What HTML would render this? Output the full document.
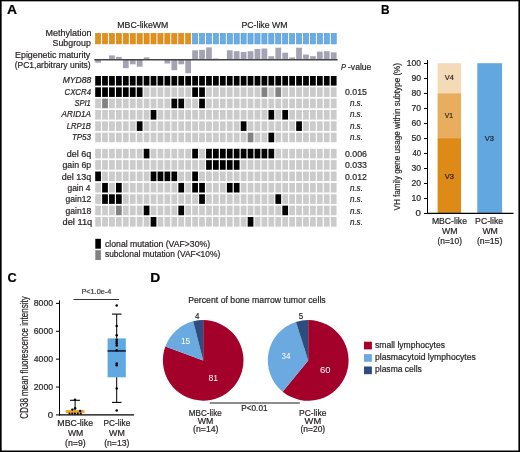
<!DOCTYPE html>
<html><head><meta charset="utf-8"><style>
html,body{margin:0;padding:0;background:#fff;}
svg{display:block;font-family:"Liberation Sans", sans-serif;will-change:transform;}
</style></head><body>
<svg width="520" height="452" viewBox="0 0 520 452">
<rect width="520" height="452" fill="#fff"/>
<text x="7.00" y="14.30" font-size="12.5" fill="#000" stroke="#000" stroke-width="0.2" font-weight="bold" textLength="10.00" lengthAdjust="spacingAndGlyphs" >A</text>
<text x="117.30" y="27.80" font-size="8.5" fill="#231f20" stroke="#231f20" stroke-width="0.2"  textLength="51.00" lengthAdjust="spacingAndGlyphs" >MBC-likeWM</text>
<text x="241.40" y="27.80" font-size="8.5" fill="#231f20" stroke="#231f20" stroke-width="0.2"  textLength="46.20" lengthAdjust="spacingAndGlyphs" >PC-like WM</text>
<rect x="95.50" y="33.4" width="5.15" height="10.5" fill="#E0901E" stroke="#D8820C" stroke-width="0.6"/>
<rect x="102.43" y="33.4" width="5.15" height="10.5" fill="#E0901E" stroke="#D8820C" stroke-width="0.6"/>
<rect x="109.36" y="33.4" width="5.15" height="10.5" fill="#E0901E" stroke="#D8820C" stroke-width="0.6"/>
<rect x="116.29" y="33.4" width="5.15" height="10.5" fill="#E0901E" stroke="#D8820C" stroke-width="0.6"/>
<rect x="123.22" y="33.4" width="5.15" height="10.5" fill="#E0901E" stroke="#D8820C" stroke-width="0.6"/>
<rect x="130.15" y="33.4" width="5.15" height="10.5" fill="#E0901E" stroke="#D8820C" stroke-width="0.6"/>
<rect x="137.08" y="33.4" width="5.15" height="10.5" fill="#E0901E" stroke="#D8820C" stroke-width="0.6"/>
<rect x="144.01" y="33.4" width="5.15" height="10.5" fill="#E0901E" stroke="#D8820C" stroke-width="0.6"/>
<rect x="150.94" y="33.4" width="5.15" height="10.5" fill="#E0901E" stroke="#D8820C" stroke-width="0.6"/>
<rect x="157.87" y="33.4" width="5.15" height="10.5" fill="#E0901E" stroke="#D8820C" stroke-width="0.6"/>
<rect x="164.80" y="33.4" width="5.15" height="10.5" fill="#E0901E" stroke="#D8820C" stroke-width="0.6"/>
<rect x="171.73" y="33.4" width="5.15" height="10.5" fill="#E0901E" stroke="#D8820C" stroke-width="0.6"/>
<rect x="178.66" y="33.4" width="5.15" height="10.5" fill="#E0901E" stroke="#D8820C" stroke-width="0.6"/>
<rect x="185.59" y="33.4" width="5.15" height="10.5" fill="#E0901E" stroke="#D8820C" stroke-width="0.6"/>
<rect x="192.52" y="33.4" width="5.15" height="10.5" fill="#6AACE3" stroke="#4E97DA" stroke-width="0.6"/>
<rect x="199.45" y="33.4" width="5.15" height="10.5" fill="#6AACE3" stroke="#4E97DA" stroke-width="0.6"/>
<rect x="206.38" y="33.4" width="5.15" height="10.5" fill="#6AACE3" stroke="#4E97DA" stroke-width="0.6"/>
<rect x="213.31" y="33.4" width="5.15" height="10.5" fill="#6AACE3" stroke="#4E97DA" stroke-width="0.6"/>
<rect x="220.24" y="33.4" width="5.15" height="10.5" fill="#6AACE3" stroke="#4E97DA" stroke-width="0.6"/>
<rect x="227.17" y="33.4" width="5.15" height="10.5" fill="#6AACE3" stroke="#4E97DA" stroke-width="0.6"/>
<rect x="234.10" y="33.4" width="5.15" height="10.5" fill="#6AACE3" stroke="#4E97DA" stroke-width="0.6"/>
<rect x="241.03" y="33.4" width="5.15" height="10.5" fill="#6AACE3" stroke="#4E97DA" stroke-width="0.6"/>
<rect x="247.96" y="33.4" width="5.15" height="10.5" fill="#6AACE3" stroke="#4E97DA" stroke-width="0.6"/>
<rect x="254.89" y="33.4" width="5.15" height="10.5" fill="#6AACE3" stroke="#4E97DA" stroke-width="0.6"/>
<rect x="261.82" y="33.4" width="5.15" height="10.5" fill="#6AACE3" stroke="#4E97DA" stroke-width="0.6"/>
<rect x="268.75" y="33.4" width="5.15" height="10.5" fill="#6AACE3" stroke="#4E97DA" stroke-width="0.6"/>
<rect x="275.68" y="33.4" width="5.15" height="10.5" fill="#6AACE3" stroke="#4E97DA" stroke-width="0.6"/>
<rect x="282.61" y="33.4" width="5.15" height="10.5" fill="#6AACE3" stroke="#4E97DA" stroke-width="0.6"/>
<rect x="289.54" y="33.4" width="5.15" height="10.5" fill="#6AACE3" stroke="#4E97DA" stroke-width="0.6"/>
<rect x="296.47" y="33.4" width="5.15" height="10.5" fill="#6AACE3" stroke="#4E97DA" stroke-width="0.6"/>
<rect x="303.40" y="33.4" width="5.15" height="10.5" fill="#6AACE3" stroke="#4E97DA" stroke-width="0.6"/>
<rect x="310.33" y="33.4" width="5.15" height="10.5" fill="#6AACE3" stroke="#4E97DA" stroke-width="0.6"/>
<rect x="317.26" y="33.4" width="5.15" height="10.5" fill="#6AACE3" stroke="#4E97DA" stroke-width="0.6"/>
<rect x="324.19" y="33.4" width="5.15" height="10.5" fill="#6AACE3" stroke="#4E97DA" stroke-width="0.6"/>
<rect x="331.12" y="33.4" width="5.15" height="10.5" fill="#6AACE3" stroke="#4E97DA" stroke-width="0.6"/>
<text x="45.40" y="35.70" font-size="8.5" fill="#231f20" stroke="#231f20" stroke-width="0.2"  textLength="46.00" lengthAdjust="spacingAndGlyphs" >Methylation</text>
<text x="52.60" y="45.60" font-size="8.5" fill="#231f20" stroke="#231f20" stroke-width="0.2"  textLength="38.20" lengthAdjust="spacingAndGlyphs" >Subgroup</text>
<text x="15.10" y="58.30" font-size="8.5" fill="#231f20" stroke="#231f20" stroke-width="0.2"  textLength="75.20" lengthAdjust="spacingAndGlyphs" >Epigenetic maturity</text>
<text x="14.70" y="67.50" font-size="8.5" fill="#231f20" stroke="#231f20" stroke-width="0.2"  textLength="76.00" lengthAdjust="spacingAndGlyphs" >(PC1,arbitrary units)</text>
<rect x="95.20" y="59.70" width="5.75" height="3.00" fill="#A3A3B3" />
<rect x="109.06" y="55.40" width="5.75" height="4.30" fill="#A3A3B3" />
<rect x="115.99" y="56.90" width="5.75" height="2.80" fill="#A3A3B3" />
<rect x="122.92" y="59.70" width="5.75" height="8.50" fill="#A3A3B3" />
<rect x="129.85" y="59.70" width="5.75" height="4.60" fill="#A3A3B3" />
<rect x="136.78" y="59.70" width="5.75" height="7.00" fill="#A3A3B3" />
<rect x="143.71" y="57.40" width="5.75" height="2.30" fill="#A3A3B3" />
<rect x="164.50" y="59.70" width="5.75" height="3.80" fill="#A3A3B3" />
<rect x="171.43" y="59.70" width="5.75" height="10.50" fill="#A3A3B3" />
<rect x="178.36" y="59.70" width="5.75" height="4.60" fill="#A3A3B3" />
<rect x="185.29" y="59.70" width="5.75" height="13.50" fill="#A3A3B3" />
<rect x="192.22" y="50.30" width="5.75" height="9.40" fill="#A3A3B3" />
<rect x="199.15" y="49.90" width="5.75" height="9.80" fill="#A3A3B3" />
<rect x="206.08" y="47.40" width="5.75" height="12.30" fill="#A3A3B3" />
<rect x="213.01" y="58.50" width="5.75" height="1.20" fill="#A3A3B3" />
<rect x="226.87" y="50.30" width="5.75" height="9.40" fill="#A3A3B3" />
<rect x="233.80" y="51.20" width="5.75" height="8.50" fill="#A3A3B3" />
<rect x="240.73" y="52.00" width="5.75" height="7.70" fill="#A3A3B3" />
<rect x="247.66" y="51.20" width="5.75" height="8.50" fill="#A3A3B3" />
<rect x="254.59" y="48.90" width="5.75" height="10.80" fill="#A3A3B3" />
<rect x="261.52" y="48.50" width="5.75" height="11.20" fill="#A3A3B3" />
<rect x="268.45" y="56.20" width="5.75" height="3.50" fill="#A3A3B3" />
<rect x="275.38" y="47.70" width="5.75" height="12.00" fill="#A3A3B3" />
<rect x="282.31" y="52.70" width="5.75" height="7.00" fill="#A3A3B3" />
<rect x="289.24" y="57.40" width="5.75" height="2.30" fill="#A3A3B3" />
<rect x="296.17" y="47.70" width="5.75" height="12.00" fill="#A3A3B3" />
<rect x="303.10" y="54.50" width="5.75" height="5.20" fill="#A3A3B3" />
<rect x="310.03" y="56.20" width="5.75" height="3.50" fill="#A3A3B3" />
<rect x="316.96" y="51.60" width="5.75" height="8.10" fill="#A3A3B3" />
<rect x="323.89" y="51.20" width="5.75" height="8.50" fill="#A3A3B3" />
<rect x="330.82" y="52.30" width="5.75" height="7.40" fill="#A3A3B3" />
<line x1="94.30" y1="59.80" x2="337.60" y2="59.80" stroke="#454545" stroke-width="1.4" />
<text x="341.00" y="70.30" font-size="8.5" fill="#231f20" stroke="#231f20" stroke-width="0.2" font-style="italic" textLength="5.00" lengthAdjust="spacingAndGlyphs" >P</text>
<text x="348.00" y="70.30" font-size="8.5" fill="#231f20" stroke="#231f20" stroke-width="0.2"  textLength="23.40" lengthAdjust="spacingAndGlyphs" >-value</text>
<rect x="95.20" y="76.00" width="5.75" height="9.60" fill="#000000" />
<rect x="102.13" y="76.00" width="5.75" height="9.60" fill="#000000" />
<rect x="109.06" y="76.00" width="5.75" height="9.60" fill="#000000" />
<rect x="115.99" y="76.00" width="5.75" height="9.60" fill="#000000" />
<rect x="122.92" y="76.00" width="5.75" height="9.60" fill="#000000" />
<rect x="129.85" y="76.00" width="5.75" height="9.60" fill="#000000" />
<rect x="136.78" y="76.00" width="5.75" height="9.60" fill="#000000" />
<rect x="143.71" y="76.00" width="5.75" height="9.60" fill="#000000" />
<rect x="150.64" y="76.00" width="5.75" height="9.60" fill="#000000" />
<rect x="157.57" y="76.00" width="5.75" height="9.60" fill="#000000" />
<rect x="164.50" y="76.00" width="5.75" height="9.60" fill="#000000" />
<rect x="171.43" y="76.00" width="5.75" height="9.60" fill="#000000" />
<rect x="178.36" y="76.00" width="5.75" height="9.60" fill="#000000" />
<rect x="185.29" y="76.00" width="5.75" height="9.60" fill="#000000" />
<rect x="192.22" y="76.00" width="5.75" height="9.60" fill="#000000" />
<rect x="199.15" y="76.00" width="5.75" height="9.60" fill="#000000" />
<rect x="206.08" y="76.00" width="5.75" height="9.60" fill="#000000" />
<rect x="213.01" y="76.00" width="5.75" height="9.60" fill="#000000" />
<rect x="219.94" y="76.00" width="5.75" height="9.60" fill="#000000" />
<rect x="226.87" y="76.00" width="5.75" height="9.60" fill="#000000" />
<rect x="233.80" y="76.00" width="5.75" height="9.60" fill="#000000" />
<rect x="240.73" y="76.00" width="5.75" height="9.60" fill="#000000" />
<rect x="247.66" y="76.00" width="5.75" height="9.60" fill="#000000" />
<rect x="254.59" y="76.00" width="5.75" height="9.60" fill="#000000" />
<rect x="261.52" y="76.00" width="5.75" height="9.60" fill="#000000" />
<rect x="268.45" y="76.00" width="5.75" height="9.60" fill="#000000" />
<rect x="275.38" y="76.00" width="5.75" height="9.60" fill="#000000" />
<rect x="282.31" y="76.00" width="5.75" height="9.60" fill="#000000" />
<rect x="289.24" y="76.00" width="5.75" height="9.60" fill="#000000" />
<rect x="296.17" y="76.00" width="5.75" height="9.60" fill="#000000" />
<rect x="303.10" y="76.00" width="5.75" height="9.60" fill="#000000" />
<rect x="310.03" y="76.00" width="5.75" height="9.60" fill="#000000" />
<rect x="316.96" y="76.00" width="5.75" height="9.60" fill="#000000" />
<rect x="323.89" y="76.00" width="5.75" height="9.60" fill="#000000" />
<rect x="330.82" y="76.00" width="5.75" height="9.60" fill="#000000" />
<text x="62.70" y="83.40" font-size="8.5" fill="#231f20" stroke="#231f20" stroke-width="0.2" font-style="italic" textLength="28.60" lengthAdjust="spacingAndGlyphs" >MYD88</text>
<rect x="95.20" y="87.33" width="5.75" height="9.60" fill="#000000" />
<rect x="102.13" y="87.33" width="5.75" height="9.60" fill="#000000" />
<rect x="109.06" y="87.33" width="5.75" height="9.60" fill="#000000" />
<rect x="115.99" y="87.33" width="5.75" height="9.60" fill="#000000" />
<rect x="122.92" y="87.33" width="5.75" height="9.60" fill="#000000" />
<rect x="129.85" y="87.33" width="5.75" height="9.60" fill="#000000" />
<rect x="136.78" y="87.33" width="5.75" height="9.60" fill="#000000" />
<rect x="143.71" y="87.33" width="5.75" height="9.60" fill="#CBCBCB" />
<rect x="150.64" y="87.33" width="5.75" height="9.60" fill="#CBCBCB" />
<rect x="157.57" y="87.33" width="5.75" height="9.60" fill="#CBCBCB" />
<rect x="164.50" y="87.33" width="5.75" height="9.60" fill="#CBCBCB" />
<rect x="171.43" y="87.33" width="5.75" height="9.60" fill="#CBCBCB" />
<rect x="178.36" y="87.33" width="5.75" height="9.60" fill="#CBCBCB" />
<rect x="185.29" y="87.33" width="5.75" height="9.60" fill="#CBCBCB" />
<rect x="192.22" y="87.33" width="5.75" height="9.60" fill="#000000" />
<rect x="199.15" y="87.33" width="5.75" height="9.60" fill="#000000" />
<rect x="206.08" y="87.33" width="5.75" height="9.60" fill="#CBCBCB" />
<rect x="213.01" y="87.33" width="5.75" height="9.60" fill="#CBCBCB" />
<rect x="219.94" y="87.33" width="5.75" height="9.60" fill="#CBCBCB" />
<rect x="226.87" y="87.33" width="5.75" height="9.60" fill="#CBCBCB" />
<rect x="233.80" y="87.33" width="5.75" height="9.60" fill="#CBCBCB" />
<rect x="240.73" y="87.33" width="5.75" height="9.60" fill="#CBCBCB" />
<rect x="247.66" y="87.33" width="5.75" height="9.60" fill="#CBCBCB" />
<rect x="254.59" y="87.33" width="5.75" height="9.60" fill="#CBCBCB" />
<rect x="261.52" y="87.33" width="5.75" height="9.60" fill="#828282" />
<rect x="268.45" y="87.33" width="5.75" height="9.60" fill="#CBCBCB" />
<rect x="275.38" y="87.33" width="5.75" height="9.60" fill="#828282" />
<rect x="282.31" y="87.33" width="5.75" height="9.60" fill="#CBCBCB" />
<rect x="289.24" y="87.33" width="5.75" height="9.60" fill="#CBCBCB" />
<rect x="296.17" y="87.33" width="5.75" height="9.60" fill="#CBCBCB" />
<rect x="303.10" y="87.33" width="5.75" height="9.60" fill="#CBCBCB" />
<rect x="310.03" y="87.33" width="5.75" height="9.60" fill="#CBCBCB" />
<rect x="316.96" y="87.33" width="5.75" height="9.60" fill="#CBCBCB" />
<rect x="323.89" y="87.33" width="5.75" height="9.60" fill="#CBCBCB" />
<rect x="330.82" y="87.33" width="5.75" height="9.60" fill="#CBCBCB" />
<text x="64.50" y="94.73" font-size="8.5" fill="#231f20" stroke="#231f20" stroke-width="0.2" font-style="italic" textLength="26.50" lengthAdjust="spacingAndGlyphs" >CXCR4</text>
<text x="345.00" y="94.73" font-size="8.5" fill="#231f20" stroke="#231f20" stroke-width="0.2"  textLength="21.90" lengthAdjust="spacingAndGlyphs" >0.015</text>
<rect x="95.20" y="98.66" width="5.75" height="9.60" fill="#CBCBCB" />
<rect x="102.13" y="98.66" width="5.75" height="9.60" fill="#828282" />
<rect x="109.06" y="98.66" width="5.75" height="9.60" fill="#CBCBCB" />
<rect x="115.99" y="98.66" width="5.75" height="9.60" fill="#CBCBCB" />
<rect x="122.92" y="98.66" width="5.75" height="9.60" fill="#CBCBCB" />
<rect x="129.85" y="98.66" width="5.75" height="9.60" fill="#CBCBCB" />
<rect x="136.78" y="98.66" width="5.75" height="9.60" fill="#CBCBCB" />
<rect x="143.71" y="98.66" width="5.75" height="9.60" fill="#CBCBCB" />
<rect x="150.64" y="98.66" width="5.75" height="9.60" fill="#CBCBCB" />
<rect x="157.57" y="98.66" width="5.75" height="9.60" fill="#CBCBCB" />
<rect x="164.50" y="98.66" width="5.75" height="9.60" fill="#CBCBCB" />
<rect x="171.43" y="98.66" width="5.75" height="9.60" fill="#000000" />
<rect x="178.36" y="98.66" width="5.75" height="9.60" fill="#000000" />
<rect x="185.29" y="98.66" width="5.75" height="9.60" fill="#CBCBCB" />
<rect x="192.22" y="98.66" width="5.75" height="9.60" fill="#CBCBCB" />
<rect x="199.15" y="98.66" width="5.75" height="9.60" fill="#000000" />
<rect x="206.08" y="98.66" width="5.75" height="9.60" fill="#CBCBCB" />
<rect x="213.01" y="98.66" width="5.75" height="9.60" fill="#CBCBCB" />
<rect x="219.94" y="98.66" width="5.75" height="9.60" fill="#CBCBCB" />
<rect x="226.87" y="98.66" width="5.75" height="9.60" fill="#CBCBCB" />
<rect x="233.80" y="98.66" width="5.75" height="9.60" fill="#CBCBCB" />
<rect x="240.73" y="98.66" width="5.75" height="9.60" fill="#CBCBCB" />
<rect x="247.66" y="98.66" width="5.75" height="9.60" fill="#CBCBCB" />
<rect x="254.59" y="98.66" width="5.75" height="9.60" fill="#CBCBCB" />
<rect x="261.52" y="98.66" width="5.75" height="9.60" fill="#CBCBCB" />
<rect x="268.45" y="98.66" width="5.75" height="9.60" fill="#CBCBCB" />
<rect x="275.38" y="98.66" width="5.75" height="9.60" fill="#CBCBCB" />
<rect x="282.31" y="98.66" width="5.75" height="9.60" fill="#CBCBCB" />
<rect x="289.24" y="98.66" width="5.75" height="9.60" fill="#CBCBCB" />
<rect x="296.17" y="98.66" width="5.75" height="9.60" fill="#CBCBCB" />
<rect x="303.10" y="98.66" width="5.75" height="9.60" fill="#CBCBCB" />
<rect x="310.03" y="98.66" width="5.75" height="9.60" fill="#CBCBCB" />
<rect x="316.96" y="98.66" width="5.75" height="9.60" fill="#CBCBCB" />
<rect x="323.89" y="98.66" width="5.75" height="9.60" fill="#CBCBCB" />
<rect x="330.82" y="98.66" width="5.75" height="9.60" fill="#CBCBCB" />
<text x="74.40" y="106.06" font-size="8.5" fill="#231f20" stroke="#231f20" stroke-width="0.2" font-style="italic" textLength="16.40" lengthAdjust="spacingAndGlyphs" >SPI1</text>
<text x="349.90" y="106.06" font-size="8.5" fill="#231f20" stroke="#231f20" stroke-width="0.2" font-style="italic" textLength="13.00" lengthAdjust="spacingAndGlyphs" >n.s.</text>
<rect x="95.20" y="109.99" width="5.75" height="9.60" fill="#CBCBCB" />
<rect x="102.13" y="109.99" width="5.75" height="9.60" fill="#CBCBCB" />
<rect x="109.06" y="109.99" width="5.75" height="9.60" fill="#CBCBCB" />
<rect x="115.99" y="109.99" width="5.75" height="9.60" fill="#CBCBCB" />
<rect x="122.92" y="109.99" width="5.75" height="9.60" fill="#CBCBCB" />
<rect x="129.85" y="109.99" width="5.75" height="9.60" fill="#CBCBCB" />
<rect x="136.78" y="109.99" width="5.75" height="9.60" fill="#CBCBCB" />
<rect x="143.71" y="109.99" width="5.75" height="9.60" fill="#CBCBCB" />
<rect x="150.64" y="109.99" width="5.75" height="9.60" fill="#000000" />
<rect x="157.57" y="109.99" width="5.75" height="9.60" fill="#CBCBCB" />
<rect x="164.50" y="109.99" width="5.75" height="9.60" fill="#CBCBCB" />
<rect x="171.43" y="109.99" width="5.75" height="9.60" fill="#CBCBCB" />
<rect x="178.36" y="109.99" width="5.75" height="9.60" fill="#CBCBCB" />
<rect x="185.29" y="109.99" width="5.75" height="9.60" fill="#CBCBCB" />
<rect x="192.22" y="109.99" width="5.75" height="9.60" fill="#CBCBCB" />
<rect x="199.15" y="109.99" width="5.75" height="9.60" fill="#CBCBCB" />
<rect x="206.08" y="109.99" width="5.75" height="9.60" fill="#CBCBCB" />
<rect x="213.01" y="109.99" width="5.75" height="9.60" fill="#CBCBCB" />
<rect x="219.94" y="109.99" width="5.75" height="9.60" fill="#CBCBCB" />
<rect x="226.87" y="109.99" width="5.75" height="9.60" fill="#CBCBCB" />
<rect x="233.80" y="109.99" width="5.75" height="9.60" fill="#CBCBCB" />
<rect x="240.73" y="109.99" width="5.75" height="9.60" fill="#CBCBCB" />
<rect x="247.66" y="109.99" width="5.75" height="9.60" fill="#CBCBCB" />
<rect x="254.59" y="109.99" width="5.75" height="9.60" fill="#CBCBCB" />
<rect x="261.52" y="109.99" width="5.75" height="9.60" fill="#CBCBCB" />
<rect x="268.45" y="109.99" width="5.75" height="9.60" fill="#000000" />
<rect x="275.38" y="109.99" width="5.75" height="9.60" fill="#CBCBCB" />
<rect x="282.31" y="109.99" width="5.75" height="9.60" fill="#000000" />
<rect x="289.24" y="109.99" width="5.75" height="9.60" fill="#CBCBCB" />
<rect x="296.17" y="109.99" width="5.75" height="9.60" fill="#CBCBCB" />
<rect x="303.10" y="109.99" width="5.75" height="9.60" fill="#CBCBCB" />
<rect x="310.03" y="109.99" width="5.75" height="9.60" fill="#CBCBCB" />
<rect x="316.96" y="109.99" width="5.75" height="9.60" fill="#CBCBCB" />
<rect x="323.89" y="109.99" width="5.75" height="9.60" fill="#CBCBCB" />
<rect x="330.82" y="109.99" width="5.75" height="9.60" fill="#CBCBCB" />
<text x="61.60" y="117.39" font-size="8.5" fill="#231f20" stroke="#231f20" stroke-width="0.2" font-style="italic" textLength="29.40" lengthAdjust="spacingAndGlyphs" >ARID1A</text>
<text x="349.90" y="117.39" font-size="8.5" fill="#231f20" stroke="#231f20" stroke-width="0.2" font-style="italic" textLength="13.00" lengthAdjust="spacingAndGlyphs" >n.s.</text>
<rect x="95.20" y="121.32" width="5.75" height="9.60" fill="#CBCBCB" />
<rect x="102.13" y="121.32" width="5.75" height="9.60" fill="#CBCBCB" />
<rect x="109.06" y="121.32" width="5.75" height="9.60" fill="#CBCBCB" />
<rect x="115.99" y="121.32" width="5.75" height="9.60" fill="#CBCBCB" />
<rect x="122.92" y="121.32" width="5.75" height="9.60" fill="#CBCBCB" />
<rect x="129.85" y="121.32" width="5.75" height="9.60" fill="#CBCBCB" />
<rect x="136.78" y="121.32" width="5.75" height="9.60" fill="#000000" />
<rect x="143.71" y="121.32" width="5.75" height="9.60" fill="#CBCBCB" />
<rect x="150.64" y="121.32" width="5.75" height="9.60" fill="#CBCBCB" />
<rect x="157.57" y="121.32" width="5.75" height="9.60" fill="#CBCBCB" />
<rect x="164.50" y="121.32" width="5.75" height="9.60" fill="#CBCBCB" />
<rect x="171.43" y="121.32" width="5.75" height="9.60" fill="#CBCBCB" />
<rect x="178.36" y="121.32" width="5.75" height="9.60" fill="#CBCBCB" />
<rect x="185.29" y="121.32" width="5.75" height="9.60" fill="#CBCBCB" />
<rect x="192.22" y="121.32" width="5.75" height="9.60" fill="#CBCBCB" />
<rect x="199.15" y="121.32" width="5.75" height="9.60" fill="#CBCBCB" />
<rect x="206.08" y="121.32" width="5.75" height="9.60" fill="#CBCBCB" />
<rect x="213.01" y="121.32" width="5.75" height="9.60" fill="#CBCBCB" />
<rect x="219.94" y="121.32" width="5.75" height="9.60" fill="#CBCBCB" />
<rect x="226.87" y="121.32" width="5.75" height="9.60" fill="#CBCBCB" />
<rect x="233.80" y="121.32" width="5.75" height="9.60" fill="#CBCBCB" />
<rect x="240.73" y="121.32" width="5.75" height="9.60" fill="#000000" />
<rect x="247.66" y="121.32" width="5.75" height="9.60" fill="#CBCBCB" />
<rect x="254.59" y="121.32" width="5.75" height="9.60" fill="#CBCBCB" />
<rect x="261.52" y="121.32" width="5.75" height="9.60" fill="#CBCBCB" />
<rect x="268.45" y="121.32" width="5.75" height="9.60" fill="#CBCBCB" />
<rect x="275.38" y="121.32" width="5.75" height="9.60" fill="#CBCBCB" />
<rect x="282.31" y="121.32" width="5.75" height="9.60" fill="#CBCBCB" />
<rect x="289.24" y="121.32" width="5.75" height="9.60" fill="#CBCBCB" />
<rect x="296.17" y="121.32" width="5.75" height="9.60" fill="#000000" />
<rect x="303.10" y="121.32" width="5.75" height="9.60" fill="#CBCBCB" />
<rect x="310.03" y="121.32" width="5.75" height="9.60" fill="#CBCBCB" />
<rect x="316.96" y="121.32" width="5.75" height="9.60" fill="#CBCBCB" />
<rect x="323.89" y="121.32" width="5.75" height="9.60" fill="#CBCBCB" />
<rect x="330.82" y="121.32" width="5.75" height="9.60" fill="#CBCBCB" />
<text x="66.70" y="128.72" font-size="8.5" fill="#231f20" stroke="#231f20" stroke-width="0.2" font-style="italic" textLength="24.30" lengthAdjust="spacingAndGlyphs" >LRP1B</text>
<text x="349.90" y="128.72" font-size="8.5" fill="#231f20" stroke="#231f20" stroke-width="0.2" font-style="italic" textLength="13.00" lengthAdjust="spacingAndGlyphs" >n.s.</text>
<rect x="95.20" y="132.65" width="5.75" height="9.60" fill="#CBCBCB" />
<rect x="102.13" y="132.65" width="5.75" height="9.60" fill="#CBCBCB" />
<rect x="109.06" y="132.65" width="5.75" height="9.60" fill="#CBCBCB" />
<rect x="115.99" y="132.65" width="5.75" height="9.60" fill="#CBCBCB" />
<rect x="122.92" y="132.65" width="5.75" height="9.60" fill="#CBCBCB" />
<rect x="129.85" y="132.65" width="5.75" height="9.60" fill="#CBCBCB" />
<rect x="136.78" y="132.65" width="5.75" height="9.60" fill="#CBCBCB" />
<rect x="143.71" y="132.65" width="5.75" height="9.60" fill="#CBCBCB" />
<rect x="150.64" y="132.65" width="5.75" height="9.60" fill="#CBCBCB" />
<rect x="157.57" y="132.65" width="5.75" height="9.60" fill="#CBCBCB" />
<rect x="164.50" y="132.65" width="5.75" height="9.60" fill="#CBCBCB" />
<rect x="171.43" y="132.65" width="5.75" height="9.60" fill="#CBCBCB" />
<rect x="178.36" y="132.65" width="5.75" height="9.60" fill="#CBCBCB" />
<rect x="185.29" y="132.65" width="5.75" height="9.60" fill="#CBCBCB" />
<rect x="192.22" y="132.65" width="5.75" height="9.60" fill="#CBCBCB" />
<rect x="199.15" y="132.65" width="5.75" height="9.60" fill="#CBCBCB" />
<rect x="206.08" y="132.65" width="5.75" height="9.60" fill="#CBCBCB" />
<rect x="213.01" y="132.65" width="5.75" height="9.60" fill="#CBCBCB" />
<rect x="219.94" y="132.65" width="5.75" height="9.60" fill="#CBCBCB" />
<rect x="226.87" y="132.65" width="5.75" height="9.60" fill="#CBCBCB" />
<rect x="233.80" y="132.65" width="5.75" height="9.60" fill="#CBCBCB" />
<rect x="240.73" y="132.65" width="5.75" height="9.60" fill="#CBCBCB" />
<rect x="247.66" y="132.65" width="5.75" height="9.60" fill="#828282" />
<rect x="254.59" y="132.65" width="5.75" height="9.60" fill="#CBCBCB" />
<rect x="261.52" y="132.65" width="5.75" height="9.60" fill="#CBCBCB" />
<rect x="268.45" y="132.65" width="5.75" height="9.60" fill="#000000" />
<rect x="275.38" y="132.65" width="5.75" height="9.60" fill="#CBCBCB" />
<rect x="282.31" y="132.65" width="5.75" height="9.60" fill="#CBCBCB" />
<rect x="289.24" y="132.65" width="5.75" height="9.60" fill="#CBCBCB" />
<rect x="296.17" y="132.65" width="5.75" height="9.60" fill="#CBCBCB" />
<rect x="303.10" y="132.65" width="5.75" height="9.60" fill="#CBCBCB" />
<rect x="310.03" y="132.65" width="5.75" height="9.60" fill="#CBCBCB" />
<rect x="316.96" y="132.65" width="5.75" height="9.60" fill="#CBCBCB" />
<rect x="323.89" y="132.65" width="5.75" height="9.60" fill="#CBCBCB" />
<rect x="330.82" y="132.65" width="5.75" height="9.60" fill="#CBCBCB" />
<text x="71.90" y="140.05" font-size="8.5" fill="#231f20" stroke="#231f20" stroke-width="0.2" font-style="italic" textLength="19.10" lengthAdjust="spacingAndGlyphs" >TP53</text>
<text x="349.90" y="140.05" font-size="8.5" fill="#231f20" stroke="#231f20" stroke-width="0.2" font-style="italic" textLength="13.00" lengthAdjust="spacingAndGlyphs" >n.s.</text>
<rect x="95.20" y="148.80" width="5.75" height="9.60" fill="#CBCBCB" />
<rect x="102.13" y="148.80" width="5.75" height="9.60" fill="#CBCBCB" />
<rect x="109.06" y="148.80" width="5.75" height="9.60" fill="#CBCBCB" />
<rect x="115.99" y="148.80" width="5.75" height="9.60" fill="#CBCBCB" />
<rect x="122.92" y="148.80" width="5.75" height="9.60" fill="#CBCBCB" />
<rect x="129.85" y="148.80" width="5.75" height="9.60" fill="#CBCBCB" />
<rect x="136.78" y="148.80" width="5.75" height="9.60" fill="#CBCBCB" />
<rect x="143.71" y="148.80" width="5.75" height="9.60" fill="#000000" />
<rect x="150.64" y="148.80" width="5.75" height="9.60" fill="#CBCBCB" />
<rect x="157.57" y="148.80" width="5.75" height="9.60" fill="#CBCBCB" />
<rect x="164.50" y="148.80" width="5.75" height="9.60" fill="#CBCBCB" />
<rect x="171.43" y="148.80" width="5.75" height="9.60" fill="#CBCBCB" />
<rect x="178.36" y="148.80" width="5.75" height="9.60" fill="#CBCBCB" />
<rect x="185.29" y="148.80" width="5.75" height="9.60" fill="#CBCBCB" />
<rect x="192.22" y="148.80" width="5.75" height="9.60" fill="#000000" />
<rect x="199.15" y="148.80" width="5.75" height="9.60" fill="#CBCBCB" />
<rect x="206.08" y="148.80" width="5.75" height="9.60" fill="#000000" />
<rect x="213.01" y="148.80" width="5.75" height="9.60" fill="#000000" />
<rect x="219.94" y="148.80" width="5.75" height="9.60" fill="#000000" />
<rect x="226.87" y="148.80" width="5.75" height="9.60" fill="#000000" />
<rect x="233.80" y="148.80" width="5.75" height="9.60" fill="#000000" />
<rect x="240.73" y="148.80" width="5.75" height="9.60" fill="#000000" />
<rect x="247.66" y="148.80" width="5.75" height="9.60" fill="#000000" />
<rect x="254.59" y="148.80" width="5.75" height="9.60" fill="#000000" />
<rect x="261.52" y="148.80" width="5.75" height="9.60" fill="#000000" />
<rect x="268.45" y="148.80" width="5.75" height="9.60" fill="#000000" />
<rect x="275.38" y="148.80" width="5.75" height="9.60" fill="#CBCBCB" />
<rect x="282.31" y="148.80" width="5.75" height="9.60" fill="#CBCBCB" />
<rect x="289.24" y="148.80" width="5.75" height="9.60" fill="#CBCBCB" />
<rect x="296.17" y="148.80" width="5.75" height="9.60" fill="#CBCBCB" />
<rect x="303.10" y="148.80" width="5.75" height="9.60" fill="#CBCBCB" />
<rect x="310.03" y="148.80" width="5.75" height="9.60" fill="#CBCBCB" />
<rect x="316.96" y="148.80" width="5.75" height="9.60" fill="#CBCBCB" />
<rect x="323.89" y="148.80" width="5.75" height="9.60" fill="#CBCBCB" />
<rect x="330.82" y="148.80" width="5.75" height="9.60" fill="#CBCBCB" />
<text x="66.70" y="156.80" font-size="8.5" fill="#231f20" stroke="#231f20" stroke-width="0.2"  textLength="24.50" lengthAdjust="spacingAndGlyphs" >del 6q</text>
<text x="345.00" y="156.80" font-size="8.5" fill="#231f20" stroke="#231f20" stroke-width="0.2"  textLength="21.90" lengthAdjust="spacingAndGlyphs" >0.006</text>
<rect x="95.20" y="160.17" width="5.75" height="9.60" fill="#CBCBCB" />
<rect x="102.13" y="160.17" width="5.75" height="9.60" fill="#CBCBCB" />
<rect x="109.06" y="160.17" width="5.75" height="9.60" fill="#CBCBCB" />
<rect x="115.99" y="160.17" width="5.75" height="9.60" fill="#CBCBCB" />
<rect x="122.92" y="160.17" width="5.75" height="9.60" fill="#CBCBCB" />
<rect x="129.85" y="160.17" width="5.75" height="9.60" fill="#CBCBCB" />
<rect x="136.78" y="160.17" width="5.75" height="9.60" fill="#CBCBCB" />
<rect x="143.71" y="160.17" width="5.75" height="9.60" fill="#CBCBCB" />
<rect x="150.64" y="160.17" width="5.75" height="9.60" fill="#CBCBCB" />
<rect x="157.57" y="160.17" width="5.75" height="9.60" fill="#CBCBCB" />
<rect x="164.50" y="160.17" width="5.75" height="9.60" fill="#CBCBCB" />
<rect x="171.43" y="160.17" width="5.75" height="9.60" fill="#CBCBCB" />
<rect x="178.36" y="160.17" width="5.75" height="9.60" fill="#CBCBCB" />
<rect x="185.29" y="160.17" width="5.75" height="9.60" fill="#CBCBCB" />
<rect x="192.22" y="160.17" width="5.75" height="9.60" fill="#CBCBCB" />
<rect x="199.15" y="160.17" width="5.75" height="9.60" fill="#CBCBCB" />
<rect x="206.08" y="160.17" width="5.75" height="9.60" fill="#000000" />
<rect x="213.01" y="160.17" width="5.75" height="9.60" fill="#000000" />
<rect x="219.94" y="160.17" width="5.75" height="9.60" fill="#000000" />
<rect x="226.87" y="160.17" width="5.75" height="9.60" fill="#000000" />
<rect x="233.80" y="160.17" width="5.75" height="9.60" fill="#000000" />
<rect x="240.73" y="160.17" width="5.75" height="9.60" fill="#CBCBCB" />
<rect x="247.66" y="160.17" width="5.75" height="9.60" fill="#CBCBCB" />
<rect x="254.59" y="160.17" width="5.75" height="9.60" fill="#CBCBCB" />
<rect x="261.52" y="160.17" width="5.75" height="9.60" fill="#CBCBCB" />
<rect x="268.45" y="160.17" width="5.75" height="9.60" fill="#CBCBCB" />
<rect x="275.38" y="160.17" width="5.75" height="9.60" fill="#CBCBCB" />
<rect x="282.31" y="160.17" width="5.75" height="9.60" fill="#CBCBCB" />
<rect x="289.24" y="160.17" width="5.75" height="9.60" fill="#CBCBCB" />
<rect x="296.17" y="160.17" width="5.75" height="9.60" fill="#CBCBCB" />
<rect x="303.10" y="160.17" width="5.75" height="9.60" fill="#CBCBCB" />
<rect x="310.03" y="160.17" width="5.75" height="9.60" fill="#CBCBCB" />
<rect x="316.96" y="160.17" width="5.75" height="9.60" fill="#CBCBCB" />
<rect x="323.89" y="160.17" width="5.75" height="9.60" fill="#CBCBCB" />
<rect x="330.82" y="160.17" width="5.75" height="9.60" fill="#CBCBCB" />
<text x="62.50" y="168.17" font-size="8.5" fill="#231f20" stroke="#231f20" stroke-width="0.2"  textLength="28.70" lengthAdjust="spacingAndGlyphs" >gain 6p</text>
<text x="345.00" y="168.17" font-size="8.5" fill="#231f20" stroke="#231f20" stroke-width="0.2"  textLength="21.90" lengthAdjust="spacingAndGlyphs" >0.033</text>
<rect x="95.20" y="171.54" width="5.75" height="9.60" fill="#000000" />
<rect x="102.13" y="171.54" width="5.75" height="9.60" fill="#CBCBCB" />
<rect x="109.06" y="171.54" width="5.75" height="9.60" fill="#CBCBCB" />
<rect x="115.99" y="171.54" width="5.75" height="9.60" fill="#CBCBCB" />
<rect x="122.92" y="171.54" width="5.75" height="9.60" fill="#CBCBCB" />
<rect x="129.85" y="171.54" width="5.75" height="9.60" fill="#CBCBCB" />
<rect x="136.78" y="171.54" width="5.75" height="9.60" fill="#CBCBCB" />
<rect x="143.71" y="171.54" width="5.75" height="9.60" fill="#CBCBCB" />
<rect x="150.64" y="171.54" width="5.75" height="9.60" fill="#000000" />
<rect x="157.57" y="171.54" width="5.75" height="9.60" fill="#000000" />
<rect x="164.50" y="171.54" width="5.75" height="9.60" fill="#000000" />
<rect x="171.43" y="171.54" width="5.75" height="9.60" fill="#000000" />
<rect x="178.36" y="171.54" width="5.75" height="9.60" fill="#CBCBCB" />
<rect x="185.29" y="171.54" width="5.75" height="9.60" fill="#CBCBCB" />
<rect x="192.22" y="171.54" width="5.75" height="9.60" fill="#000000" />
<rect x="199.15" y="171.54" width="5.75" height="9.60" fill="#CBCBCB" />
<rect x="206.08" y="171.54" width="5.75" height="9.60" fill="#CBCBCB" />
<rect x="213.01" y="171.54" width="5.75" height="9.60" fill="#CBCBCB" />
<rect x="219.94" y="171.54" width="5.75" height="9.60" fill="#CBCBCB" />
<rect x="226.87" y="171.54" width="5.75" height="9.60" fill="#CBCBCB" />
<rect x="233.80" y="171.54" width="5.75" height="9.60" fill="#CBCBCB" />
<rect x="240.73" y="171.54" width="5.75" height="9.60" fill="#CBCBCB" />
<rect x="247.66" y="171.54" width="5.75" height="9.60" fill="#CBCBCB" />
<rect x="254.59" y="171.54" width="5.75" height="9.60" fill="#CBCBCB" />
<rect x="261.52" y="171.54" width="5.75" height="9.60" fill="#CBCBCB" />
<rect x="268.45" y="171.54" width="5.75" height="9.60" fill="#CBCBCB" />
<rect x="275.38" y="171.54" width="5.75" height="9.60" fill="#CBCBCB" />
<rect x="282.31" y="171.54" width="5.75" height="9.60" fill="#CBCBCB" />
<rect x="289.24" y="171.54" width="5.75" height="9.60" fill="#CBCBCB" />
<rect x="296.17" y="171.54" width="5.75" height="9.60" fill="#CBCBCB" />
<rect x="303.10" y="171.54" width="5.75" height="9.60" fill="#CBCBCB" />
<rect x="310.03" y="171.54" width="5.75" height="9.60" fill="#CBCBCB" />
<rect x="316.96" y="171.54" width="5.75" height="9.60" fill="#CBCBCB" />
<rect x="323.89" y="171.54" width="5.75" height="9.60" fill="#CBCBCB" />
<rect x="330.82" y="171.54" width="5.75" height="9.60" fill="#CBCBCB" />
<text x="61.70" y="179.54" font-size="8.5" fill="#231f20" stroke="#231f20" stroke-width="0.2"  textLength="29.50" lengthAdjust="spacingAndGlyphs" >del 13q</text>
<text x="345.00" y="179.54" font-size="8.5" fill="#231f20" stroke="#231f20" stroke-width="0.2"  textLength="21.90" lengthAdjust="spacingAndGlyphs" >0.012</text>
<rect x="95.20" y="182.91" width="5.75" height="9.60" fill="#CBCBCB" />
<rect x="102.13" y="182.91" width="5.75" height="9.60" fill="#000000" />
<rect x="109.06" y="182.91" width="5.75" height="9.60" fill="#CBCBCB" />
<rect x="115.99" y="182.91" width="5.75" height="9.60" fill="#000000" />
<rect x="122.92" y="182.91" width="5.75" height="9.60" fill="#CBCBCB" />
<rect x="129.85" y="182.91" width="5.75" height="9.60" fill="#CBCBCB" />
<rect x="136.78" y="182.91" width="5.75" height="9.60" fill="#CBCBCB" />
<rect x="143.71" y="182.91" width="5.75" height="9.60" fill="#CBCBCB" />
<rect x="150.64" y="182.91" width="5.75" height="9.60" fill="#CBCBCB" />
<rect x="157.57" y="182.91" width="5.75" height="9.60" fill="#CBCBCB" />
<rect x="164.50" y="182.91" width="5.75" height="9.60" fill="#CBCBCB" />
<rect x="171.43" y="182.91" width="5.75" height="9.60" fill="#CBCBCB" />
<rect x="178.36" y="182.91" width="5.75" height="9.60" fill="#000000" />
<rect x="185.29" y="182.91" width="5.75" height="9.60" fill="#CBCBCB" />
<rect x="192.22" y="182.91" width="5.75" height="9.60" fill="#000000" />
<rect x="199.15" y="182.91" width="5.75" height="9.60" fill="#000000" />
<rect x="206.08" y="182.91" width="5.75" height="9.60" fill="#CBCBCB" />
<rect x="213.01" y="182.91" width="5.75" height="9.60" fill="#CBCBCB" />
<rect x="219.94" y="182.91" width="5.75" height="9.60" fill="#CBCBCB" />
<rect x="226.87" y="182.91" width="5.75" height="9.60" fill="#000000" />
<rect x="233.80" y="182.91" width="5.75" height="9.60" fill="#000000" />
<rect x="240.73" y="182.91" width="5.75" height="9.60" fill="#CBCBCB" />
<rect x="247.66" y="182.91" width="5.75" height="9.60" fill="#CBCBCB" />
<rect x="254.59" y="182.91" width="5.75" height="9.60" fill="#CBCBCB" />
<rect x="261.52" y="182.91" width="5.75" height="9.60" fill="#CBCBCB" />
<rect x="268.45" y="182.91" width="5.75" height="9.60" fill="#CBCBCB" />
<rect x="275.38" y="182.91" width="5.75" height="9.60" fill="#CBCBCB" />
<rect x="282.31" y="182.91" width="5.75" height="9.60" fill="#CBCBCB" />
<rect x="289.24" y="182.91" width="5.75" height="9.60" fill="#CBCBCB" />
<rect x="296.17" y="182.91" width="5.75" height="9.60" fill="#CBCBCB" />
<rect x="303.10" y="182.91" width="5.75" height="9.60" fill="#CBCBCB" />
<rect x="310.03" y="182.91" width="5.75" height="9.60" fill="#CBCBCB" />
<rect x="316.96" y="182.91" width="5.75" height="9.60" fill="#CBCBCB" />
<rect x="323.89" y="182.91" width="5.75" height="9.60" fill="#CBCBCB" />
<rect x="330.82" y="182.91" width="5.75" height="9.60" fill="#CBCBCB" />
<text x="67.50" y="190.91" font-size="8.5" fill="#231f20" stroke="#231f20" stroke-width="0.2"  textLength="22.90" lengthAdjust="spacingAndGlyphs" >gain 4</text>
<text x="349.90" y="190.91" font-size="8.5" fill="#231f20" stroke="#231f20" stroke-width="0.2" font-style="italic" textLength="13.00" lengthAdjust="spacingAndGlyphs" >n.s.</text>
<rect x="95.20" y="194.28" width="5.75" height="9.60" fill="#CBCBCB" />
<rect x="102.13" y="194.28" width="5.75" height="9.60" fill="#000000" />
<rect x="109.06" y="194.28" width="5.75" height="9.60" fill="#000000" />
<rect x="115.99" y="194.28" width="5.75" height="9.60" fill="#000000" />
<rect x="122.92" y="194.28" width="5.75" height="9.60" fill="#CBCBCB" />
<rect x="129.85" y="194.28" width="5.75" height="9.60" fill="#CBCBCB" />
<rect x="136.78" y="194.28" width="5.75" height="9.60" fill="#CBCBCB" />
<rect x="143.71" y="194.28" width="5.75" height="9.60" fill="#CBCBCB" />
<rect x="150.64" y="194.28" width="5.75" height="9.60" fill="#CBCBCB" />
<rect x="157.57" y="194.28" width="5.75" height="9.60" fill="#CBCBCB" />
<rect x="164.50" y="194.28" width="5.75" height="9.60" fill="#CBCBCB" />
<rect x="171.43" y="194.28" width="5.75" height="9.60" fill="#CBCBCB" />
<rect x="178.36" y="194.28" width="5.75" height="9.60" fill="#CBCBCB" />
<rect x="185.29" y="194.28" width="5.75" height="9.60" fill="#CBCBCB" />
<rect x="192.22" y="194.28" width="5.75" height="9.60" fill="#CBCBCB" />
<rect x="199.15" y="194.28" width="5.75" height="9.60" fill="#000000" />
<rect x="206.08" y="194.28" width="5.75" height="9.60" fill="#CBCBCB" />
<rect x="213.01" y="194.28" width="5.75" height="9.60" fill="#CBCBCB" />
<rect x="219.94" y="194.28" width="5.75" height="9.60" fill="#CBCBCB" />
<rect x="226.87" y="194.28" width="5.75" height="9.60" fill="#CBCBCB" />
<rect x="233.80" y="194.28" width="5.75" height="9.60" fill="#CBCBCB" />
<rect x="240.73" y="194.28" width="5.75" height="9.60" fill="#CBCBCB" />
<rect x="247.66" y="194.28" width="5.75" height="9.60" fill="#CBCBCB" />
<rect x="254.59" y="194.28" width="5.75" height="9.60" fill="#CBCBCB" />
<rect x="261.52" y="194.28" width="5.75" height="9.60" fill="#CBCBCB" />
<rect x="268.45" y="194.28" width="5.75" height="9.60" fill="#CBCBCB" />
<rect x="275.38" y="194.28" width="5.75" height="9.60" fill="#000000" />
<rect x="282.31" y="194.28" width="5.75" height="9.60" fill="#CBCBCB" />
<rect x="289.24" y="194.28" width="5.75" height="9.60" fill="#CBCBCB" />
<rect x="296.17" y="194.28" width="5.75" height="9.60" fill="#CBCBCB" />
<rect x="303.10" y="194.28" width="5.75" height="9.60" fill="#CBCBCB" />
<rect x="310.03" y="194.28" width="5.75" height="9.60" fill="#CBCBCB" />
<rect x="316.96" y="194.28" width="5.75" height="9.60" fill="#CBCBCB" />
<rect x="323.89" y="194.28" width="5.75" height="9.60" fill="#CBCBCB" />
<rect x="330.82" y="194.28" width="5.75" height="9.60" fill="#CBCBCB" />
<text x="65.50" y="202.28" font-size="8.5" fill="#231f20" stroke="#231f20" stroke-width="0.2"  textLength="25.70" lengthAdjust="spacingAndGlyphs" >gain12</text>
<text x="349.90" y="202.28" font-size="8.5" fill="#231f20" stroke="#231f20" stroke-width="0.2" font-style="italic" textLength="13.00" lengthAdjust="spacingAndGlyphs" >n.s.</text>
<rect x="95.20" y="205.65" width="5.75" height="9.60" fill="#CBCBCB" />
<rect x="102.13" y="205.65" width="5.75" height="9.60" fill="#CBCBCB" />
<rect x="109.06" y="205.65" width="5.75" height="9.60" fill="#CBCBCB" />
<rect x="115.99" y="205.65" width="5.75" height="9.60" fill="#828282" />
<rect x="122.92" y="205.65" width="5.75" height="9.60" fill="#CBCBCB" />
<rect x="129.85" y="205.65" width="5.75" height="9.60" fill="#CBCBCB" />
<rect x="136.78" y="205.65" width="5.75" height="9.60" fill="#CBCBCB" />
<rect x="143.71" y="205.65" width="5.75" height="9.60" fill="#000000" />
<rect x="150.64" y="205.65" width="5.75" height="9.60" fill="#CBCBCB" />
<rect x="157.57" y="205.65" width="5.75" height="9.60" fill="#CBCBCB" />
<rect x="164.50" y="205.65" width="5.75" height="9.60" fill="#CBCBCB" />
<rect x="171.43" y="205.65" width="5.75" height="9.60" fill="#CBCBCB" />
<rect x="178.36" y="205.65" width="5.75" height="9.60" fill="#000000" />
<rect x="185.29" y="205.65" width="5.75" height="9.60" fill="#CBCBCB" />
<rect x="192.22" y="205.65" width="5.75" height="9.60" fill="#CBCBCB" />
<rect x="199.15" y="205.65" width="5.75" height="9.60" fill="#CBCBCB" />
<rect x="206.08" y="205.65" width="5.75" height="9.60" fill="#CBCBCB" />
<rect x="213.01" y="205.65" width="5.75" height="9.60" fill="#CBCBCB" />
<rect x="219.94" y="205.65" width="5.75" height="9.60" fill="#CBCBCB" />
<rect x="226.87" y="205.65" width="5.75" height="9.60" fill="#CBCBCB" />
<rect x="233.80" y="205.65" width="5.75" height="9.60" fill="#CBCBCB" />
<rect x="240.73" y="205.65" width="5.75" height="9.60" fill="#CBCBCB" />
<rect x="247.66" y="205.65" width="5.75" height="9.60" fill="#CBCBCB" />
<rect x="254.59" y="205.65" width="5.75" height="9.60" fill="#CBCBCB" />
<rect x="261.52" y="205.65" width="5.75" height="9.60" fill="#CBCBCB" />
<rect x="268.45" y="205.65" width="5.75" height="9.60" fill="#CBCBCB" />
<rect x="275.38" y="205.65" width="5.75" height="9.60" fill="#CBCBCB" />
<rect x="282.31" y="205.65" width="5.75" height="9.60" fill="#000000" />
<rect x="289.24" y="205.65" width="5.75" height="9.60" fill="#CBCBCB" />
<rect x="296.17" y="205.65" width="5.75" height="9.60" fill="#CBCBCB" />
<rect x="303.10" y="205.65" width="5.75" height="9.60" fill="#CBCBCB" />
<rect x="310.03" y="205.65" width="5.75" height="9.60" fill="#CBCBCB" />
<rect x="316.96" y="205.65" width="5.75" height="9.60" fill="#CBCBCB" />
<rect x="323.89" y="205.65" width="5.75" height="9.60" fill="#CBCBCB" />
<rect x="330.82" y="205.65" width="5.75" height="9.60" fill="#CBCBCB" />
<text x="65.50" y="213.65" font-size="8.5" fill="#231f20" stroke="#231f20" stroke-width="0.2"  textLength="25.70" lengthAdjust="spacingAndGlyphs" >gain18</text>
<text x="349.90" y="213.65" font-size="8.5" fill="#231f20" stroke="#231f20" stroke-width="0.2" font-style="italic" textLength="13.00" lengthAdjust="spacingAndGlyphs" >n.s.</text>
<rect x="95.20" y="217.02" width="5.75" height="9.60" fill="#CBCBCB" />
<rect x="102.13" y="217.02" width="5.75" height="9.60" fill="#CBCBCB" />
<rect x="109.06" y="217.02" width="5.75" height="9.60" fill="#CBCBCB" />
<rect x="115.99" y="217.02" width="5.75" height="9.60" fill="#CBCBCB" />
<rect x="122.92" y="217.02" width="5.75" height="9.60" fill="#CBCBCB" />
<rect x="129.85" y="217.02" width="5.75" height="9.60" fill="#CBCBCB" />
<rect x="136.78" y="217.02" width="5.75" height="9.60" fill="#CBCBCB" />
<rect x="143.71" y="217.02" width="5.75" height="9.60" fill="#CBCBCB" />
<rect x="150.64" y="217.02" width="5.75" height="9.60" fill="#000000" />
<rect x="157.57" y="217.02" width="5.75" height="9.60" fill="#CBCBCB" />
<rect x="164.50" y="217.02" width="5.75" height="9.60" fill="#CBCBCB" />
<rect x="171.43" y="217.02" width="5.75" height="9.60" fill="#CBCBCB" />
<rect x="178.36" y="217.02" width="5.75" height="9.60" fill="#CBCBCB" />
<rect x="185.29" y="217.02" width="5.75" height="9.60" fill="#CBCBCB" />
<rect x="192.22" y="217.02" width="5.75" height="9.60" fill="#CBCBCB" />
<rect x="199.15" y="217.02" width="5.75" height="9.60" fill="#CBCBCB" />
<rect x="206.08" y="217.02" width="5.75" height="9.60" fill="#CBCBCB" />
<rect x="213.01" y="217.02" width="5.75" height="9.60" fill="#CBCBCB" />
<rect x="219.94" y="217.02" width="5.75" height="9.60" fill="#CBCBCB" />
<rect x="226.87" y="217.02" width="5.75" height="9.60" fill="#CBCBCB" />
<rect x="233.80" y="217.02" width="5.75" height="9.60" fill="#CBCBCB" />
<rect x="240.73" y="217.02" width="5.75" height="9.60" fill="#CBCBCB" />
<rect x="247.66" y="217.02" width="5.75" height="9.60" fill="#000000" />
<rect x="254.59" y="217.02" width="5.75" height="9.60" fill="#CBCBCB" />
<rect x="261.52" y="217.02" width="5.75" height="9.60" fill="#CBCBCB" />
<rect x="268.45" y="217.02" width="5.75" height="9.60" fill="#CBCBCB" />
<rect x="275.38" y="217.02" width="5.75" height="9.60" fill="#CBCBCB" />
<rect x="282.31" y="217.02" width="5.75" height="9.60" fill="#CBCBCB" />
<rect x="289.24" y="217.02" width="5.75" height="9.60" fill="#CBCBCB" />
<rect x="296.17" y="217.02" width="5.75" height="9.60" fill="#CBCBCB" />
<rect x="303.10" y="217.02" width="5.75" height="9.60" fill="#CBCBCB" />
<rect x="310.03" y="217.02" width="5.75" height="9.60" fill="#CBCBCB" />
<rect x="316.96" y="217.02" width="5.75" height="9.60" fill="#CBCBCB" />
<rect x="323.89" y="217.02" width="5.75" height="9.60" fill="#CBCBCB" />
<rect x="330.82" y="217.02" width="5.75" height="9.60" fill="#CBCBCB" />
<text x="62.50" y="225.02" font-size="8.5" fill="#231f20" stroke="#231f20" stroke-width="0.2"  textLength="29.70" lengthAdjust="spacingAndGlyphs" >del 11q</text>
<text x="349.90" y="225.02" font-size="8.5" fill="#231f20" stroke="#231f20" stroke-width="0.2" font-style="italic" textLength="13.00" lengthAdjust="spacingAndGlyphs" >n.s.</text>
<rect x="95.30" y="238.80" width="5.60" height="9.90" fill="#000000" />
<rect x="95.30" y="250.20" width="5.60" height="9.80" fill="#828282" />
<text x="105.00" y="246.50" font-size="8.5" fill="#231f20" stroke="#231f20" stroke-width="0.2"  textLength="105.10" lengthAdjust="spacingAndGlyphs" >clonal mutation (VAF&gt;30%)</text>
<text x="105.00" y="257.10" font-size="8.5" fill="#231f20" stroke="#231f20" stroke-width="0.2"  textLength="115.20" lengthAdjust="spacingAndGlyphs" >subclonal mutation (VAF&lt;10%)</text>
<text x="381.00" y="14.10" font-size="12.5" fill="#000" stroke="#000" stroke-width="0.2" font-weight="bold" textLength="8.60" lengthAdjust="spacingAndGlyphs" >B</text>
<rect x="437.60" y="138.10" width="23.40" height="74.90" fill="#DE8A17" />
<rect x="437.60" y="93.16" width="23.40" height="44.94" fill="#E8AE5E" />
<rect x="437.60" y="63.20" width="23.40" height="29.96" fill="#F4DAB6" />
<rect x="477.30" y="63.20" width="24.80" height="149.80" fill="#62A7E0" />
<line x1="427.50" y1="60.00" x2="427.50" y2="214.00" stroke="#000" stroke-width="1.05" />
<line x1="427.00" y1="213.40" x2="513.50" y2="213.40" stroke="#000" stroke-width="1.1" />
<line x1="424.00" y1="213.50" x2="427.50" y2="213.50" stroke="#000" stroke-width="1.0" />
<text x="415.60" y="216.40" font-size="8.5" fill="#231f20" stroke="#231f20" stroke-width="0.2"  textLength="5.40" lengthAdjust="spacingAndGlyphs" >0</text>
<line x1="424.00" y1="198.50" x2="427.50" y2="198.50" stroke="#000" stroke-width="1.0" />
<text x="411.40" y="201.40" font-size="8.5" fill="#231f20" stroke="#231f20" stroke-width="0.2"  textLength="9.60" lengthAdjust="spacingAndGlyphs" >10</text>
<line x1="424.00" y1="183.50" x2="427.50" y2="183.50" stroke="#000" stroke-width="1.0" />
<text x="411.40" y="186.40" font-size="8.5" fill="#231f20" stroke="#231f20" stroke-width="0.2"  textLength="9.60" lengthAdjust="spacingAndGlyphs" >20</text>
<line x1="424.00" y1="168.50" x2="427.50" y2="168.50" stroke="#000" stroke-width="1.0" />
<text x="411.40" y="171.40" font-size="8.5" fill="#231f20" stroke="#231f20" stroke-width="0.2"  textLength="9.60" lengthAdjust="spacingAndGlyphs" >30</text>
<line x1="424.00" y1="153.50" x2="427.50" y2="153.50" stroke="#000" stroke-width="1.0" />
<text x="412.40" y="156.40" font-size="8.5" fill="#231f20" stroke="#231f20" stroke-width="0.2"  textLength="8.60" lengthAdjust="spacingAndGlyphs" >40</text>
<line x1="424.00" y1="138.50" x2="427.50" y2="138.50" stroke="#000" stroke-width="1.0" />
<text x="411.40" y="141.40" font-size="8.5" fill="#231f20" stroke="#231f20" stroke-width="0.2"  textLength="9.60" lengthAdjust="spacingAndGlyphs" >50</text>
<line x1="424.00" y1="123.50" x2="427.50" y2="123.50" stroke="#000" stroke-width="1.0" />
<text x="411.40" y="126.40" font-size="8.5" fill="#231f20" stroke="#231f20" stroke-width="0.2"  textLength="9.60" lengthAdjust="spacingAndGlyphs" >60</text>
<line x1="424.00" y1="108.50" x2="427.50" y2="108.50" stroke="#000" stroke-width="1.0" />
<text x="411.40" y="111.40" font-size="8.5" fill="#231f20" stroke="#231f20" stroke-width="0.2"  textLength="9.60" lengthAdjust="spacingAndGlyphs" >70</text>
<line x1="424.00" y1="93.50" x2="427.50" y2="93.50" stroke="#000" stroke-width="1.0" />
<text x="411.40" y="96.40" font-size="8.5" fill="#231f20" stroke="#231f20" stroke-width="0.2"  textLength="9.60" lengthAdjust="spacingAndGlyphs" >80</text>
<line x1="424.00" y1="78.50" x2="427.50" y2="78.50" stroke="#000" stroke-width="1.0" />
<text x="411.40" y="81.40" font-size="8.5" fill="#231f20" stroke="#231f20" stroke-width="0.2"  textLength="9.60" lengthAdjust="spacingAndGlyphs" >90</text>
<line x1="424.00" y1="63.50" x2="427.50" y2="63.50" stroke="#000" stroke-width="1.0" />
<text x="406.80" y="66.40" font-size="8.5" fill="#231f20" stroke="#231f20" stroke-width="0.2"  textLength="14.20" lengthAdjust="spacingAndGlyphs" >100</text>
<text x="444.80" y="80.40" font-size="8.0" fill="#231f20" stroke="#231f20" stroke-width="0.2"  textLength="9.20" lengthAdjust="spacingAndGlyphs" >V4</text>
<text x="444.80" y="118.40" font-size="8.0" fill="#231f20" stroke="#231f20" stroke-width="0.2"  textLength="8.30" lengthAdjust="spacingAndGlyphs" >V1</text>
<text x="444.80" y="178.80" font-size="8.0" fill="#231f20" stroke="#231f20" stroke-width="0.2"  textLength="9.20" lengthAdjust="spacingAndGlyphs" >V3</text>
<text x="484.80" y="140.80" font-size="8.0" fill="#231f20" stroke="#231f20" stroke-width="0.2"  textLength="9.20" lengthAdjust="spacingAndGlyphs" >V3</text>
<text transform="translate(400.4,210.5) rotate(-90)" x="0" y="0" font-size="9.7" fill="#231f20" stroke="#231f20" stroke-width="0.2" textLength="147.5" lengthAdjust="spacingAndGlyphs">VH family gene usage within subtype (%)</text>
<text x="431.90" y="223.90" font-size="8.5" fill="#231f20" stroke="#231f20" stroke-width="0.2"  textLength="35.10" lengthAdjust="spacingAndGlyphs" >MBC-like</text>
<text x="442.00" y="234.20" font-size="8.5" fill="#231f20" stroke="#231f20" stroke-width="0.2"  textLength="15.50" lengthAdjust="spacingAndGlyphs" >WM</text>
<text x="437.50" y="244.00" font-size="8.5" fill="#231f20" stroke="#231f20" stroke-width="0.2"  textLength="24.50" lengthAdjust="spacingAndGlyphs" >(n=10)</text>
<text x="475.10" y="223.90" font-size="8.5" fill="#231f20" stroke="#231f20" stroke-width="0.2"  textLength="28.10" lengthAdjust="spacingAndGlyphs" >PC-like</text>
<text x="482.40" y="234.20" font-size="8.5" fill="#231f20" stroke="#231f20" stroke-width="0.2"  textLength="15.50" lengthAdjust="spacingAndGlyphs" >WM</text>
<text x="476.90" y="244.00" font-size="8.5" fill="#231f20" stroke="#231f20" stroke-width="0.2"  textLength="25.50" lengthAdjust="spacingAndGlyphs" >(n=15)</text>
<text x="7.40" y="281.80" font-size="12.5" fill="#000" stroke="#000" stroke-width="0.2" font-weight="bold" textLength="9.20" lengthAdjust="spacingAndGlyphs" >C</text>
<line x1="59.50" y1="300.40" x2="59.50" y2="415.50" stroke="#000" stroke-width="1.05" />
<line x1="59.00" y1="414.90" x2="134.00" y2="414.90" stroke="#000" stroke-width="1.4" />
<line x1="56.00" y1="414.90" x2="59.50" y2="414.90" stroke="#000" stroke-width="1.0" />
<text x="47.70" y="417.80" font-size="8.5" fill="#231f20" stroke="#231f20" stroke-width="0.2"  textLength="5.40" lengthAdjust="spacingAndGlyphs" >0</text>
<line x1="56.00" y1="387.02" x2="59.50" y2="387.02" stroke="#000" stroke-width="1.0" />
<text x="33.80" y="389.92" font-size="8.5" fill="#231f20" stroke="#231f20" stroke-width="0.2"  textLength="19.30" lengthAdjust="spacingAndGlyphs" >2000</text>
<line x1="56.00" y1="359.15" x2="59.50" y2="359.15" stroke="#000" stroke-width="1.0" />
<text x="33.80" y="362.05" font-size="8.5" fill="#231f20" stroke="#231f20" stroke-width="0.2"  textLength="19.30" lengthAdjust="spacingAndGlyphs" >4000</text>
<line x1="56.00" y1="331.27" x2="59.50" y2="331.27" stroke="#000" stroke-width="1.0" />
<text x="33.80" y="334.17" font-size="8.5" fill="#231f20" stroke="#231f20" stroke-width="0.2"  textLength="19.30" lengthAdjust="spacingAndGlyphs" >6000</text>
<line x1="56.00" y1="303.40" x2="59.50" y2="303.40" stroke="#000" stroke-width="1.0" />
<text x="33.80" y="306.30" font-size="8.5" fill="#231f20" stroke="#231f20" stroke-width="0.2"  textLength="19.30" lengthAdjust="spacingAndGlyphs" >8000</text>
<text transform="translate(28.0,418.7) rotate(-90)" x="0" y="0" font-size="10.3" fill="#231f20" stroke="#231f20" stroke-width="0.2" textLength="122.5" lengthAdjust="spacingAndGlyphs">CD38 mean fluorescence intensity</text>
<line x1="73.50" y1="299.50" x2="119.00" y2="299.50" stroke="#333" stroke-width="1.0" />
<text x="81.40" y="293.70" font-size="6.8" fill="#3a3a3a" stroke="#3a3a3a" stroke-width="0.2"  textLength="29.90" lengthAdjust="spacingAndGlyphs" >P&lt;1.0e-4</text>
<rect x="107.60" y="338.40" width="18.20" height="38.90" fill="#5FA8E2" />
<line x1="107.60" y1="350.90" x2="125.80" y2="350.90" stroke="#1c3352" stroke-width="1.9" />
<line x1="116.70" y1="314.10" x2="116.70" y2="338.40" stroke="#000" stroke-width="1.0" />
<line x1="116.70" y1="377.30" x2="116.70" y2="402.40" stroke="#000" stroke-width="1.0" />
<line x1="112.00" y1="314.10" x2="121.50" y2="314.10" stroke="#000" stroke-width="1.1" />
<line x1="112.00" y1="402.40" x2="121.50" y2="402.40" stroke="#000" stroke-width="1.1" />
<circle cx="116.7" cy="305.6" r="1.25" fill="#000"/>
<circle cx="116.7" cy="325.9" r="1.25" fill="#000"/>
<circle cx="116.7" cy="335.2" r="1.25" fill="#000"/>
<circle cx="116.7" cy="339.8" r="1.25" fill="#000"/>
<circle cx="116.7" cy="341.8" r="1.25" fill="#000"/>
<circle cx="116.7" cy="343.6" r="1.25" fill="#000"/>
<circle cx="116.7" cy="345.4" r="1.25" fill="#000"/>
<circle cx="116.7" cy="350.2" r="1.25" fill="#000"/>
<circle cx="116.7" cy="363.5" r="1.25" fill="#000"/>
<circle cx="116.7" cy="365.3" r="1.25" fill="#000"/>
<circle cx="116.7" cy="388.4" r="1.25" fill="#000"/>
<circle cx="116.7" cy="410.5" r="1.25" fill="#000"/>
<rect x="65.80" y="410.10" width="18.60" height="3.00" fill="#F4A31B" />
<line x1="75.10" y1="400.30" x2="75.10" y2="410.10" stroke="#000" stroke-width="1.0" />
<line x1="70.10" y1="400.30" x2="79.90" y2="400.30" stroke="#000" stroke-width="1.1" />
<circle cx="75" cy="399.8" r="1.2" fill="#000"/>
<circle cx="75.1" cy="408.2" r="1.2" fill="#000"/>
<circle cx="72.4" cy="409.6" r="1.2" fill="#000"/>
<circle cx="80.2" cy="411" r="1.2" fill="#000"/>
<circle cx="69.5" cy="413.6" r="1.1" fill="#000"/>
<circle cx="72.3" cy="413.6" r="1.1" fill="#000"/>
<circle cx="74.9" cy="413.6" r="1.1" fill="#000"/>
<circle cx="77.8" cy="413.6" r="1.1" fill="#000"/>
<circle cx="80.7" cy="413.6" r="1.1" fill="#000"/>
<text x="57.30" y="425.80" font-size="8.5" fill="#231f20" stroke="#231f20" stroke-width="0.2"  textLength="35.80" lengthAdjust="spacingAndGlyphs" >MBC-like</text>
<text x="67.90" y="435.80" font-size="8.5" fill="#231f20" stroke="#231f20" stroke-width="0.2"  textLength="15.40" lengthAdjust="spacingAndGlyphs" >WM</text>
<text x="65.00" y="445.60" font-size="8.5" fill="#231f20" stroke="#231f20" stroke-width="0.2"  textLength="20.80" lengthAdjust="spacingAndGlyphs" >(n=9)</text>
<text x="103.50" y="425.80" font-size="8.5" fill="#231f20" stroke="#231f20" stroke-width="0.2"  textLength="26.90" lengthAdjust="spacingAndGlyphs" >PC-like</text>
<text x="109.10" y="435.80" font-size="8.5" fill="#231f20" stroke="#231f20" stroke-width="0.2"  textLength="15.70" lengthAdjust="spacingAndGlyphs" >WM</text>
<text x="104.20" y="445.60" font-size="8.5" fill="#231f20" stroke="#231f20" stroke-width="0.2"  textLength="25.20" lengthAdjust="spacingAndGlyphs" >(n=13)</text>
<text x="150.20" y="281.90" font-size="12.5" fill="#000" stroke="#000" stroke-width="0.2" font-weight="bold" textLength="10.00" lengthAdjust="spacingAndGlyphs" >D</text>
<text x="188.20" y="302.50" font-size="8.5" fill="#231f20" stroke="#231f20" stroke-width="0.2"  textLength="137.50" lengthAdjust="spacingAndGlyphs" >Percent of bone marrow tumor cells</text>
<path d="M203.20,360.40 L203.20,320.10 A40.3,40.3 0 1 1 165.37,346.51 Z" fill="#A3002A"/>
<path d="M203.20,360.40 L165.37,346.51 A40.3,40.3 0 0 1 193.18,321.37 Z" fill="#6AAAE0"/>
<path d="M203.20,360.40 L193.18,321.37 A40.3,40.3 0 0 1 203.20,320.10 Z" fill="#2E4C7D"/>
<path d="M308.20,360.40 L308.20,320.00 A40.4,40.4 0 1 1 282.64,391.69 Z" fill="#A3002A"/>
<path d="M308.20,360.40 L282.64,391.69 A40.4,40.4 0 0 1 295.96,321.90 Z" fill="#6AAAE0"/>
<path d="M308.20,360.40 L295.96,321.90 A40.4,40.4 0 0 1 308.20,320.00 Z" fill="#2E4C7D"/>
<text x="195.00" y="319.00" font-size="8.5" fill="#231f20" stroke="#231f20" stroke-width="0.2"  textLength="4.40" lengthAdjust="spacingAndGlyphs" >4</text>
<text x="298.80" y="319.30" font-size="8.5" fill="#231f20" stroke="#231f20" stroke-width="0.2"  textLength="4.40" lengthAdjust="spacingAndGlyphs" >5</text>
<text x="208.40" y="380.80" font-size="8.5" fill="#fff" stroke="#fff" stroke-width="0"  textLength="9.60" lengthAdjust="spacingAndGlyphs" >81</text>
<text x="181.00" y="344.30" font-size="8.5" fill="#fff" stroke="#fff" stroke-width="0"  textLength="9.20" lengthAdjust="spacingAndGlyphs" >15</text>
<text x="281.50" y="358.70" font-size="8.5" fill="#fff" stroke="#fff" stroke-width="0"  textLength="8.90" lengthAdjust="spacingAndGlyphs" >34</text>
<text x="320.10" y="373.00" font-size="8.5" fill="#fff" stroke="#fff" stroke-width="0"  textLength="10.50" lengthAdjust="spacingAndGlyphs" >60</text>
<line x1="209.80" y1="403.00" x2="299.80" y2="403.00" stroke="#666" stroke-width="1.7" />
<text x="241.30" y="410.90" font-size="8.2" fill="#231f20" stroke="#231f20" stroke-width="0.2"  textLength="26.20" lengthAdjust="spacingAndGlyphs" >P&lt;0.01</text>
<text x="188.80" y="415.80" font-size="8.6" fill="#231f20" stroke="#231f20" stroke-width="0.2"  textLength="32.90" lengthAdjust="spacingAndGlyphs" >MBC-like</text>
<text x="197.80" y="423.80" font-size="8.6" fill="#231f20" stroke="#231f20" stroke-width="0.2"  textLength="15.60" lengthAdjust="spacingAndGlyphs" >WM</text>
<text x="193.10" y="431.50" font-size="8.6" fill="#231f20" stroke="#231f20" stroke-width="0.2"  textLength="25.40" lengthAdjust="spacingAndGlyphs" >(n=14)</text>
<text x="299.10" y="415.80" font-size="8.6" fill="#231f20" stroke="#231f20" stroke-width="0.2"  textLength="27.30" lengthAdjust="spacingAndGlyphs" >PC-like</text>
<text x="304.60" y="424.00" font-size="8.6" fill="#231f20" stroke="#231f20" stroke-width="0.2"  textLength="16.60" lengthAdjust="spacingAndGlyphs" >WM</text>
<text x="300.40" y="431.80" font-size="8.6" fill="#231f20" stroke="#231f20" stroke-width="0.2"  textLength="24.80" lengthAdjust="spacingAndGlyphs" >(n=20)</text>
<rect x="364.00" y="341.70" width="7.90" height="7.70" fill="#A3002A" />
<text x="375.00" y="347.90" font-size="8.5" fill="#231f20" stroke="#231f20" stroke-width="0.2"  textLength="70.00" lengthAdjust="spacingAndGlyphs" >small lymphocytes</text>
<rect x="364.00" y="354.10" width="7.90" height="7.70" fill="#6AAAE0" />
<text x="375.00" y="360.10" font-size="8.5" fill="#231f20" stroke="#231f20" stroke-width="0.2"  textLength="100.90" lengthAdjust="spacingAndGlyphs" >plasmacytoid lymphocytes</text>
<rect x="364.00" y="366.50" width="7.90" height="7.70" fill="#2E4C7D" />
<text x="375.00" y="372.20" font-size="8.5" fill="#231f20" stroke="#231f20" stroke-width="0.2"  textLength="46.90" lengthAdjust="spacingAndGlyphs" >plasma cells</text>
<rect x="0" y="0" width="520" height="1.33" fill="#000"/>
<rect x="0" y="0" width="1.65" height="452" fill="#000"/>
<rect x="518.4" y="0" width="1.6" height="452" fill="#000"/>
<rect x="0" y="450.5" width="520" height="1.5" fill="#000"/>
</svg>
</body></html>
